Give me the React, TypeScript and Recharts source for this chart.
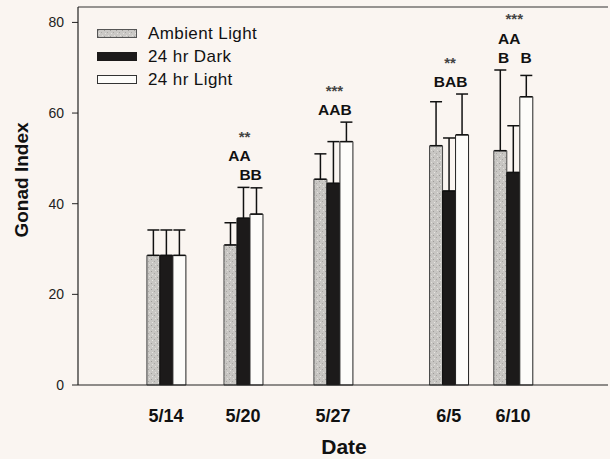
import React from 'react';
import { BarChart, Bar, XAxis, YAxis, ErrorBar, LabelList, Legend, ReferenceLine } from 'recharts';

// ---- data ----
const dayNumbers = [14, 20, 27, 36, 41];
const dateLabels = ['5/14', '5/20', '5/27', '6/5', '6/10'];
const ambientLight = [28.6, 30.9, 45.4, 52.8, 51.7];
const ambientErr = [5.6, 4.9, 5.6, 9.7, 17.8];
const dark24 = [28.6, 36.8, 44.5, 42.8, 46.9];
const darkErr = [5.6, 6.8, 9.2, 11.7, 10.3];
const light24 = [28.6, 37.7, 53.7, 55.2, 63.6];
const lightErr = [5.6, 5.8, 4.3, 9.0, 4.7];
const ambientSig = ['', 'A', 'A', 'B', 'AB'];
const darkSig = ['', 'AB', 'A', 'A', 'A'];
const lightSig = ['', 'B', 'B', 'B', 'B'];
const stars = ['', '**', '***', '**', '***'];
const yTicks = [0, 20, 40, 60, 80];
const yMax = 83.4;
const xDomain: [number, number] = [7.15, 48.4];
const seriesNames = ['Ambient Light', '24 hr Dark', '24 hr Light'];

const FONT = '"Liberation Sans", Arial, Helvetica, sans-serif';

const data = dayNumbers.map((d, i) => ({
  day: d,
  ambient: ambientLight[i],
  ambientE: [0, ambientErr[i]],
  dark: dark24[i],
  darkE: [0, darkErr[i]],
  light: light24[i],
  lightE: [0, lightErr[i]],
}));

const swatchStyles = [
  { fill: 'url(#stippleLegend)', stroke: '#555' },
  { fill: '#1c1a1a', stroke: '#1c1a1a' },
  { fill: '#fdfcfa', stroke: '#333' },
];

const renderLegend = () => (
  <div style={{ fontFamily: FONT, fontSize: 17, letterSpacing: 0.4, color: '#111' }}>
    <svg width={0} height={0} style={{ position: 'absolute' }}>
      <defs>
        <pattern id="stippleLegend" width="6" height="6" patternUnits="userSpaceOnUse">
          <rect width="6" height="6" fill="#cac8c5" />
          <rect x="1" y="1" width="1" height="1" fill="#9e9c99" />
          <rect x="4" y="3" width="1" height="1" fill="#a8a6a3" />
          <rect x="2" y="4" width="1" height="1" fill="#e6e4e1" />
          <rect x="5" y="0" width="1" height="1" fill="#e2e0dc" />
        </pattern>
      </defs>
    </svg>
    {seriesNames.map((name, i) => (
      <div key={name} style={{ display: 'flex', alignItems: 'center', height: 23 }}>
        <svg width={40} height={9} style={{ display: 'block' }}>
          <rect x={0.5} y={0.5} width={39} height={8} fill={swatchStyles[i].fill} stroke={swatchStyles[i].stroke} strokeWidth={1} />
        </svg>
        <span style={{ marginLeft: 11, lineHeight: '23px' }}>{name}</span>
      </div>
    ))}
  </div>
);

const renderSig = (props: any) => {
  const i = Number(props.index);
  const bx = Number(props.x);
  const by = Number(props.y);
  const bw = Number(props.width);
  const bh = Number(props.height);
  const sigs = [ambientSig[i], darkSig[i], lightSig[i]];
  if (sigs.every((s) => !s) && !stars[i]) return null;
  const base = by + bh;
  const ppu = bh / dark24[i];
  const maxTop = Math.max(
    ambientLight[i] + ambientErr[i],
    dark24[i] + darkErr[i],
    light24[i] + lightErr[i]
  );
  const topPx = base - maxTop * ppu;
  const twoRow = sigs.some((s) => s.length > 1);
  const bottomRow = topPx - 12.5;
  const topRow = twoRow ? bottomRow - 19.4 : bottomRow;
  const cx = bx + bw / 2;
  const step = 11.2;
  const items: React.ReactNode[] = [];
  sigs.forEach((s, j) => {
    s.split('').forEach((ch, k) => {
      const row = twoRow ? (ch === 'A' ? topRow : bottomRow) : bottomRow;
      items.push(
        <text
          key={`l${j}-${k}`}
          x={cx + (j - 1) * step + 1.5}
          y={row + 5.5}
          textAnchor="middle"
          fontFamily={FONT}
          fontWeight="bold"
          fontSize={15.5}
          fill="#111"
        >
          {ch}
        </text>
      );
    });
  });
  if (stars[i]) {
    items.push(
      <text
        key="stars"
        x={cx + 1}
        y={topRow - 22.5 + 8.6}
        textAnchor="middle"
        fontFamily={FONT}
        fontWeight="bold"
        fontSize={15}
        fill="#444"
      >
        {stars[i]}
      </text>
    );
  }
  return <g>{items}</g>;
};

export default function App() {
  return (
    <div style={{ position: 'absolute', left: 0, top: 0, width: 610, height: 459, background: '#faf5f1' }}>
      <BarChart
        width={610}
        height={459}
        data={data}
        margin={{ top: 7, right: 2, bottom: 0, left: 0 }}
        barGap={0}
        barSize={13}
      >
        <defs>
          <pattern id="stipple" width="6" height="6" patternUnits="userSpaceOnUse">
            <rect width="6" height="6" fill="#c8c6c3" />
            <rect x="1" y="1" width="1" height="1" fill="#9e9c99" />
            <rect x="4" y="3" width="1" height="1" fill="#a8a6a3" />
            <rect x="2" y="4" width="1" height="1" fill="#e6e4e1" />
            <rect x="5" y="0" width="1" height="1" fill="#e2e0dc" />
          </pattern>
        </defs>
        <XAxis
          dataKey="day"
          type="number"
          domain={xDomain}
          ticks={dayNumbers}
          interval={0}
          tickFormatter={(v: number) => dateLabels[dayNumbers.indexOf(v)]}
          height={74}
          tickLine={false}
          tickSize={6}
          tickMargin={18}
          axisLine={{ stroke: '#222', strokeWidth: 1.2 }}
          tick={{ fontFamily: FONT, fontSize: 18, fontWeight: 'bold', fill: '#111' }}
          label={{
            content: () => (
              <text x={344} y={454} textAnchor="middle" fontFamily={FONT} fontWeight="bold" fontSize={21} fill="#111">
                Date
              </text>
            ),
          }}
        />
        <YAxis
          type="number"
          domain={[0, yMax]}
          ticks={yTicks}
          width={78}
          tickSize={6}
          tickMargin={8}
          axisLine={{ stroke: '#222', strokeWidth: 1.2 }}
          tickLine={{ stroke: '#222' }}
          tick={{ fontFamily: FONT, fontSize: 14, fill: '#222' }}
          label={{
            content: () => (
              <text
                x={28}
                y={180}
                transform="rotate(-90 28 180)"
                textAnchor="middle"
                fontFamily={FONT}
                fontWeight="bold"
                fontSize={19}
                fill="#111"
              >
                Gonad Index
              </text>
            ),
          }}
        />
        <ReferenceLine y={yMax} stroke="#333" strokeWidth={1.2} />
        <Legend
          layout="vertical"
          align="center"
          verticalAlign="middle"
          content={renderLegend}
          wrapperStyle={{ top: 22, left: 97, width: 200, height: 70 }}
        />
        <Bar dataKey="ambient" name={seriesNames[0]} fill="url(#stipple)" stroke="#444" strokeWidth={1} isAnimationActive={false}>
          <ErrorBar dataKey="ambientE" width={6} stroke="#111" strokeWidth={1.5} direction="y" />
        </Bar>
        <Bar dataKey="dark" name={seriesNames[1]} fill="#1c1a1a" stroke="#111" strokeWidth={1} isAnimationActive={false}>
          <ErrorBar dataKey="darkE" width={6} stroke="#111" strokeWidth={1.5} direction="y" />
          <LabelList dataKey="dark" content={renderSig} />
        </Bar>
        <Bar dataKey="light" name={seriesNames[2]} fill="#fdfcfa" stroke="#222" strokeWidth={1} isAnimationActive={false}>
          <ErrorBar dataKey="lightE" width={6} stroke="#111" strokeWidth={1.5} direction="y" />
        </Bar>
      </BarChart>
    </div>
  );
}
